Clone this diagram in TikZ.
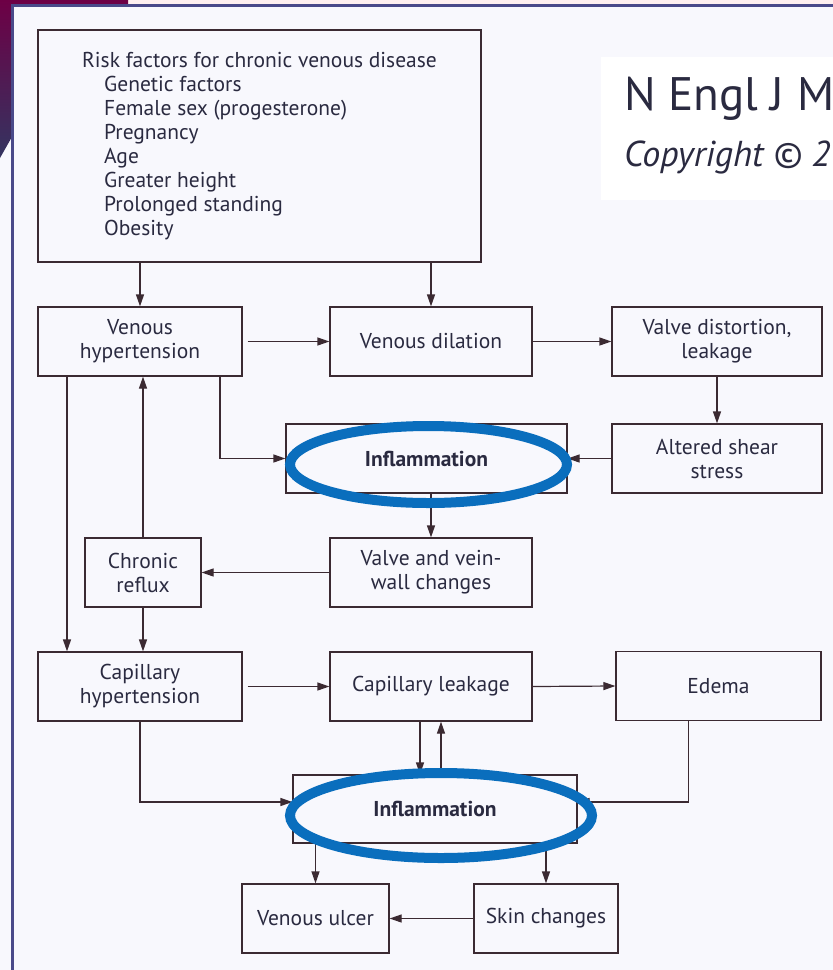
\documentclass[tikz,border=0pt]{standalone}
\usepackage{fontspec}
\setmainfont{PT Sans}
\usetikzlibrary{arrows.meta}

\definecolor{inkc}{HTML}{3B2A32}
\definecolor{txtc}{HTML}{2A2A40}
\definecolor{pagec}{HTML}{F8F8FD}
\definecolor{framec}{HTML}{4A4A8A}
\definecolor{ringc}{HTML}{0A6EBD}

\begin{document}
\begin{tikzpicture}[
    x=1pt, y=-1pt,
    box/.style={draw=inkc, line width=1.2pt, align=center, inner sep=0pt, text=txtc,
                font=\fontsize{21.5}{24}\selectfont, minimum height=69pt},
    wide/.style={box, minimum width=204pt},
    bold/.style={box, font=\fontsize{21.5}{24}\selectfont\bfseries},
    arrow/.style={-{Triangle[length=12pt, width=8pt]}, draw=inkc, line width=1.2pt},
    ring/.style={draw=ringc, line width=10pt}
  ]
    % page and slide frame
    \clip (0,0) rectangle (833,970);
    \fill[pagec] (0,0) rectangle (833,970);
    \fill[red!6] (128,0) rectangle (833,4);
    \shade[top color=violet!55!purple!70!black, bottom color=framec!70!black]
      (0,0) -- (128,0) -- (128,4) -- (13,4) -- (13,135) -- (0,158) -- cycle;
    \fill[framec] (13,4) rectangle (833,7);
    \fill[framec] (11,4) rectangle (14,970);

    % journal label
    \fill[white] (601,57) rectangle (833,200);
    \node[anchor=base west, inner sep=0pt, text=txtc, font=\fontsize{47}{47}\selectfont] (jname) at (624,110) {N Engl J M};
    \node[anchor=base west, inner sep=0pt, text=txtc, font=\fontsize{36}{36}\selectfont\itshape] (jcopy) at (624,166) {Copyright \textcopyright{} 2};

    % boxes
    \node[box, minimum width=443pt, minimum height=232pt, align=left] (risk) at (259.5,146) {%
      Risk factors for chronic venous disease\\
      \hspace*{22pt}Genetic factors\\
      \hspace*{22pt}Female sex (progesterone)\\
      \hspace*{22pt}Pregnancy\\
      \hspace*{22pt}Age\\
      \hspace*{22pt}Greater height\\
      \hspace*{22pt}Prolonged standing\\
      \hspace*{22pt}Obesity};
    \node[wide] (vhyp) at (140,341.5) {Venous\\hypertension};
    \node[wide, minimum width=202pt] (vdil) at (431,341.5) {Venous dilation};
    \node[wide, minimum width=210pt] (valve) at (717,341.5) {Valve distortion,\\leakage};
    \node[bold, minimum width=281pt] (infl1) at (426.5,458.5) {Inflammation};
    \node[wide, minimum width=210pt] (shear) at (717,458.5) {Altered shear\\stress};
    \node[box, minimum width=116pt] (reflux) at (143,572.5) {Chronic\\reflux};
    \node[wide, minimum width=202pt] (vwall) at (431,572.5) {Valve and vein-\\wall changes};
    \node[wide] (caphyp) at (140,686.5) {Capillary\\hypertension};
    \node[wide, minimum width=202pt] (capleak) at (431,686.5) {Capillary leakage};
    \node[wide, minimum width=205pt] (edema) at (718.5,686) {Edema};
    \node[bold, minimum width=284pt, minimum height=68pt] (infl2) at (435,809) {Inflammation};
    \node[box, minimum width=147pt] (ulcer) at (315.5,918.5) {Venous ulcer};
    \node[box, minimum width=144pt] (skin) at (546,918.5) {Skin changes};

    % connectors
    \draw[arrow] (risk.south -| vhyp) -- (vhyp.north);
    \draw[arrow] (risk.south -| vdil) -- (vdil.north);
    \draw[arrow, shorten <=5pt] (vhyp.east) -- (vdil.west);
    \draw[arrow] (vdil.east) -- (valve.west);
    \draw[arrow] (valve.south) -- (shear.north);
    \draw[arrow] (shear.west) -- (infl1.east);
    \draw[arrow] ([xshift=80pt]vhyp.south) |- (infl1.west);
    \draw[arrow] (infl1.south -| vwall) -- (vwall.north);
    \draw[arrow] (vwall.west) -- (reflux.east);
    \draw[arrow] (reflux.north) -- (reflux.north |- vhyp.south);
    \draw[arrow] ([xshift=-73pt]vhyp.south) -- ([xshift=-73pt]caphyp.north);
    \draw[arrow] (reflux.south) -- (reflux.south |- caphyp.north);
    \draw[arrow, shorten <=5pt] (caphyp.east) -- (capleak.west);
    \draw[arrow] (capleak.east) -- (edema.west);
    \draw[arrow] ([xshift=-11pt]capleak.south) -- ([xshift=-11pt]capleak.south |- infl2.north);
    \draw[arrow] ([xshift=10pt]capleak.south |- infl2.north) -- ([xshift=10pt]capleak.south);
    \draw[arrow] (caphyp.south) |- ([yshift=7pt]infl2.west);
    \draw[arrow] ([xshift=-30pt]edema.south) |- ([yshift=7pt]infl2.east);
    \draw[arrow] (infl2.south -| ulcer) -- (ulcer.north);
    \draw[arrow] (infl2.south -| skin) -- (skin.north);
    \draw[arrow] (skin.west) -- (ulcer.east);

    % highlight rings
    \draw[ring] (428.5,464.5) ellipse [x radius=138.5, y radius=38.5];
    \draw[ring] (441,815.5) ellipse [x radius=151, y radius=42.5];
  \end{tikzpicture}
\end{document}
